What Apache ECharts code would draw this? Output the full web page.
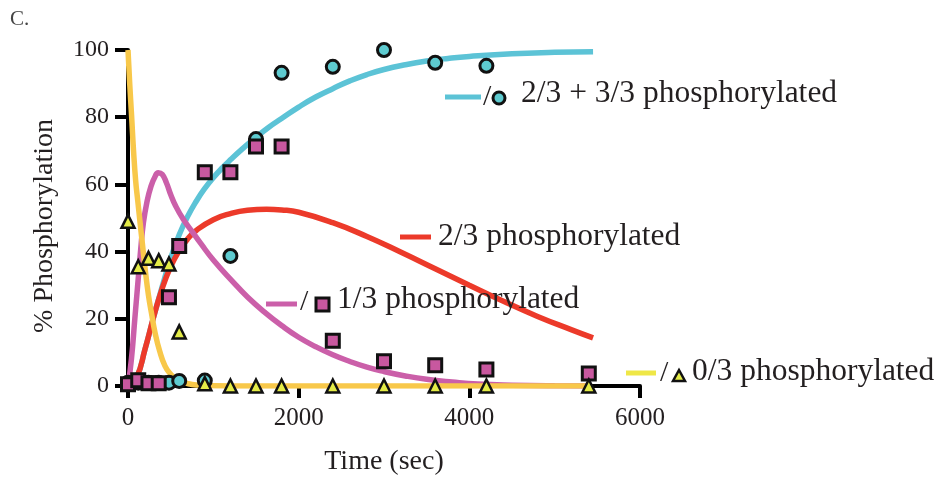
<!DOCTYPE html>
<html>
<head>
<meta charset="utf-8">
<script src="https://cdn.jsdelivr.net/npm/echarts@6/dist/echarts.min.js"></script>
<style>
html,body{margin:0;padding:0;background:#fff;}
#chart{width:946px;height:481px;}
</style>
</head>
<body>
<div id="chart"></div>
<script>
// ---- measured data (time in sec, % phosphorylation) ----
const times = [0,120,240,360,480,600,900,1200,1500,1800,2400,3000,3600,4200,5400];
const obs23plus33 = [1,1,1,1,1,1.5,1.6,38.7,73.5,93.2,95,100,96.2,95.3,null];
const obs13 = [0.5,1.7,0.8,0.8,26.4,41.7,63.6,63.6,71.3,71.3,13.5,7.4,6.2,4.9,3.7];
const obs03 = [49,35.5,38,37.3,36.3,16.1,0.7,0,0,0,0,0,0,0,0];

// fitted model curves
const fit03T = [0,20,43,65,90,115,140,170,200,240,280,316,370,433,500,560,628,700,800,1000,1500,2500,3500,4500,5400];
const fit03Y = [100,90,80,70,61,55,49,42,35,27,21,16,10.5,6,3.5,2.2,1.3,0.7,0.3,0.1,0,0,0,0,0];

const fit13T = [0,40,80,120,150,180,220,270,320,354,400,450,500,560,648,750,850,1000,1230,1400,1600,1800,2000,2200,2400,2600,2800,3000,3250,3500,3800,4100,4500,5000,5400];
const fit13Y = [0,8,20,32,41,48.5,54.5,59.5,62.5,63.5,63,60.5,57,53.5,49.6,46,42.5,37.5,31,26.5,22,18,14.5,11.7,9.3,7.3,5.6,4.3,3,2,1.2,0.6,0.25,0.05,0];

const fit23T = [0,100,200,300,400,500,600,700,800,1000,1200,1400,1624,1800,2000,2400,2800,3200,3600,4000,4400,4800,5200,5450];
const fit23Y = [0,2.5,11,20.5,29,35.5,40.3,43.8,46.3,49.5,51.3,52.3,52.6,52.4,51.7,48.6,44.5,39.8,34.9,30,25.2,20.7,16.7,14.3];

const fit23plus33T = [0,100,200,300,400,500,600,700,800,900,1000,1100,1200,1350,1500,1650,1800,2000,2200,2400,2600,2800,3000,3250,3500,3750,4000,4500,5000,5450];
const fit23plus33Y = [0,2.5,11,20.5,29.5,38,45,50.5,55,58.8,62,64.8,67.3,70.8,74,77,79.6,83,86,88.5,90.8,92.7,94.2,95.6,96.7,97.5,98.1,98.9,99.3,99.5];

const xTicks = [0,2000,4000,6000];
const yTicks = [0,20,40,60,80,100];
const legendLabels = ['2/3 + 3/3 phosphorylated','2/3 phosphorylated','1/3 phosphorylated','0/3 phosphorylated'];
const axisTitles = {x:'Time (sec)', y:'% Phosphorylation'};
const panelLabel = 'C.';

// ---- styles ----
const FONT = '"Liberation Serif","Times New Roman",serif';
const TXT = '#231f20';
const C_CYAN = '#5cc3d6', C_RED = '#ec3a2a', C_MAG = '#cb5fa9', C_YEL = '#f8c84a', C_YEL_LEG = '#efe747';
const F_CIRC = '#5ecbd0', F_SQ = '#c8589f', F_TRI = '#e4ec47';

const zip = (a,b) => a.map((v,i)=>[v,b[i]]);

const chart = echarts.init(document.getElementById('chart'));

function lineSeries(T,Y,color,z){
  return {type:'line', data: zip(T,Y), smooth:0.5, showSymbol:false, symbol:'none',
    lineStyle:{color:color,width:5.5}, z:z, silent:true, animation:false};
}
function scatter(vals,symbol,fill,size,bw,z){
  return {type:'scatter', data: times.map((t,i)=> vals[i]==null?null:[t,vals[i]]).filter(d=>d),
    symbol:symbol, symbolSize:size,
    itemStyle:{color:fill,borderColor:'#111',borderWidth:bw,opacity:1}, z:z, animation:false};
}

// legend + text graphics
const g = [];
g.push({type:'text', left:10, top:9, style:{text:panelLabel, font:'21px '+FONT, fill:'#444'}});
g.push({type:'text', x:45, y:226, rotation:Math.PI/2,
  style:{text:axisTitles.y, font:'28px '+FONT, fill:TXT, textAlign:'center', textVerticalAlign:'middle'}});
function legLine(x1,x2,y,color){ g.push({type:'line', shape:{x1:x1,y1:y,x2:x2,y2:y}, style:{stroke:color,lineWidth:5}, z:10}); }
function slash(x,y){ g.push({type:'text', x:x, y:y, style:{text:'/', font:'30px '+FONT, fill:TXT, textVerticalAlign:'middle'}, z:10}); }
function label(x,y,t){ g.push({type:'text', x:x, y:y, style:{text:t, font:'31.5px '+FONT, fill:TXT, textVerticalAlign:'middle'}, z:10}); }

// 2/3+3/3
legLine(445,481,97,C_CYAN); slash(483,97);
g.push({type:'circle', shape:{cx:499,cy:98,r:6}, style:{fill:F_CIRC,stroke:'#111',lineWidth:3}, z:10});
label(521,94,legendLabels[0]);
// 2/3
legLine(400,431,237,C_RED);
label(438,237,legendLabels[1]);
// 1/3
legLine(266,297,304,C_MAG); slash(300,302);
g.push({type:'rect', shape:{x:316,y:298,width:13,height:13}, style:{fill:F_SQ,stroke:'#111',lineWidth:3}, z:10});
label(337,300,legendLabels[2]);
// 0/3
legLine(626,656,373,C_YEL_LEG); slash(660,373);
g.push({type:'polygon', shape:{points:[[679,370],[673,381],[685,381]]}, style:{fill:F_TRI,stroke:'#111',lineWidth:2.5}, z:10});
label(692,372,legendLabels[3]);

chart.setOption({
  backgroundColor:'#fff',
  animation:false,
  grid:{left:128, right:306, top:50, bottom:93.5, containLabel:false},
  xAxis:{type:'value', min:0, max:6000, interval:2000,
    name:axisTitles.x, nameLocation:'middle', nameGap:62,
    nameTextStyle:{fontFamily:FONT, fontSize:28, color:TXT},
    axisLine:{show:true, onZero:true, lineStyle:{color:'#000', width:4}},
    axisTick:{show:true, length:12, lineStyle:{color:'#000', width:4}},
    axisLabel:{fontFamily:FONT, fontSize:25, color:TXT, margin:20,
      formatter:v=> xTicks.includes(v)? String(v):''},
    splitLine:{show:false}},
  yAxis:{type:'value', min:0, max:100, interval:20,
    axisLine:{show:true, lineStyle:{color:'#000', width:4}},
    axisTick:{show:true, length:13, lineStyle:{color:'#000', width:4}},
    axisLabel:{fontFamily:FONT, fontSize:24, color:TXT, margin:19,
      formatter:v=> yTicks.includes(v)? String(v):''},
    splitLine:{show:false}},
  series:[
    lineSeries(fit23plus33T, fit23plus33Y, C_CYAN, 2),
    lineSeries(fit23T, fit23Y, C_RED, 2),
    lineSeries(fit13T, fit13Y, C_MAG, 2),
    lineSeries(fit03T, fit03Y, C_YEL, 2),
    scatter(obs23plus33,'circle',F_CIRC,13,3,3),
    scatter(obs13,'rect',F_SQ,13,3,4),
    scatter(obs03,'triangle',F_TRI,13,2.5,5)
  ],
  graphic:g
});
</script>
</body>
</html>
